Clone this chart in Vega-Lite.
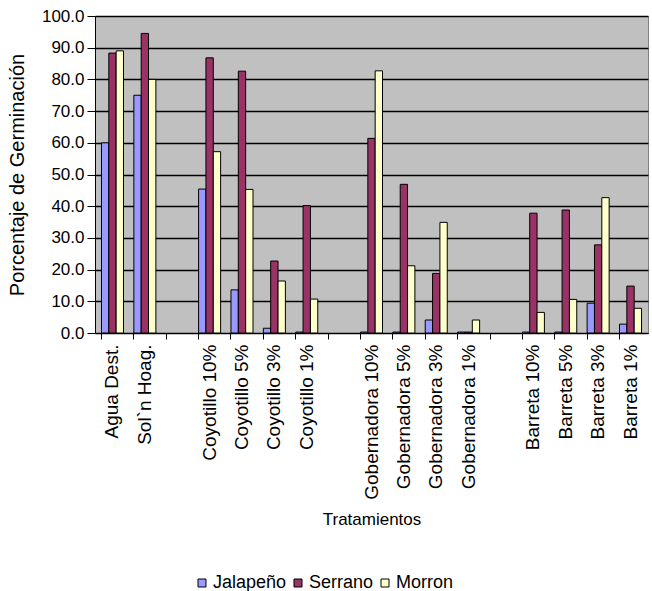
{
  "$schema": "https://vega.github.io/schema/vega-lite/v6.json",
  "width": 553,
  "height": 317,
  "autosize": {"type": "none"},
  "padding": {"left": 95, "top": 16, "right": 4, "bottom": 258},
  "background": "white",
  "config": {
    "font": "Liberation Sans",
    "view": {"fill": "#c0c0c0", "stroke": "#808080", "strokeWidth": 1}
  },
  "data": {
    "values": [
      {"tratamiento": "Agua Dest.", "variedad": "Jalapeño", "pct": 60.0},
      {"tratamiento": "Agua Dest.", "variedad": "Serrano", "pct": 88.3},
      {"tratamiento": "Agua Dest.", "variedad": "Morron", "pct": 89.0},
      {"tratamiento": "Sol`n Hoag.", "variedad": "Jalapeño", "pct": 75.0},
      {"tratamiento": "Sol`n Hoag.", "variedad": "Serrano", "pct": 94.5},
      {"tratamiento": "Sol`n Hoag.", "variedad": "Morron", "pct": 80.0},
      {"tratamiento": "Coyotillo 10%", "variedad": "Jalapeño", "pct": 45.4},
      {"tratamiento": "Coyotillo 10%", "variedad": "Serrano", "pct": 86.8},
      {"tratamiento": "Coyotillo 10%", "variedad": "Morron", "pct": 57.2},
      {"tratamiento": "Coyotillo 5%", "variedad": "Jalapeño", "pct": 13.6},
      {"tratamiento": "Coyotillo 5%", "variedad": "Serrano", "pct": 82.6},
      {"tratamiento": "Coyotillo 5%", "variedad": "Morron", "pct": 45.3},
      {"tratamiento": "Coyotillo 3%", "variedad": "Jalapeño", "pct": 1.5},
      {"tratamiento": "Coyotillo 3%", "variedad": "Serrano", "pct": 22.7},
      {"tratamiento": "Coyotillo 3%", "variedad": "Morron", "pct": 16.4},
      {"tratamiento": "Coyotillo 1%", "variedad": "Jalapeño", "pct": 0.3},
      {"tratamiento": "Coyotillo 1%", "variedad": "Serrano", "pct": 40.2},
      {"tratamiento": "Coyotillo 1%", "variedad": "Morron", "pct": 10.7},
      {"tratamiento": "Gobernadora 10%", "variedad": "Jalapeño", "pct": 0.3},
      {"tratamiento": "Gobernadora 10%", "variedad": "Serrano", "pct": 61.4},
      {"tratamiento": "Gobernadora 10%", "variedad": "Morron", "pct": 82.7},
      {"tratamiento": "Gobernadora 5%", "variedad": "Jalapeño", "pct": 0.3},
      {"tratamiento": "Gobernadora 5%", "variedad": "Serrano", "pct": 46.9},
      {"tratamiento": "Gobernadora 5%", "variedad": "Morron", "pct": 21.2},
      {"tratamiento": "Gobernadora 3%", "variedad": "Jalapeño", "pct": 4.1},
      {"tratamiento": "Gobernadora 3%", "variedad": "Serrano", "pct": 18.8},
      {"tratamiento": "Gobernadora 3%", "variedad": "Morron", "pct": 34.9},
      {"tratamiento": "Gobernadora 1%", "variedad": "Jalapeño", "pct": 0.3},
      {"tratamiento": "Gobernadora 1%", "variedad": "Serrano", "pct": 0.3},
      {"tratamiento": "Gobernadora 1%", "variedad": "Morron", "pct": 4.1},
      {"tratamiento": "Barreta 10%", "variedad": "Jalapeño", "pct": 0.3},
      {"tratamiento": "Barreta 10%", "variedad": "Serrano", "pct": 37.8},
      {"tratamiento": "Barreta 10%", "variedad": "Morron", "pct": 6.5},
      {"tratamiento": "Barreta 5%", "variedad": "Jalapeño", "pct": 0.3},
      {"tratamiento": "Barreta 5%", "variedad": "Serrano", "pct": 38.8},
      {"tratamiento": "Barreta 5%", "variedad": "Morron", "pct": 10.6},
      {"tratamiento": "Barreta 3%", "variedad": "Jalapeño", "pct": 9.4},
      {"tratamiento": "Barreta 3%", "variedad": "Serrano", "pct": 27.8},
      {"tratamiento": "Barreta 3%", "variedad": "Morron", "pct": 42.7},
      {"tratamiento": "Barreta 1%", "variedad": "Jalapeño", "pct": 2.8},
      {"tratamiento": "Barreta 1%", "variedad": "Serrano", "pct": 14.8},
      {"tratamiento": "Barreta 1%", "variedad": "Morron", "pct": 7.8}
    ]
  },
  "mark": {"type": "bar", "stroke": "black", "strokeWidth": 1},
  "encoding": {
    "x": {
      "field": "tratamiento",
      "type": "nominal",
      "scale": {
        "domain": ["Agua Dest.", "Sol`n Hoag.", " ", "Coyotillo 10%", "Coyotillo 5%", "Coyotillo 3%", "Coyotillo 1%", "  ", "Gobernadora 10%", "Gobernadora 5%", "Gobernadora 3%", "Gobernadora 1%", "   ", "Barreta 10%", "Barreta 5%", "Barreta 3%", "Barreta 1%"],
        "paddingInner": 0.32,
        "paddingOuter": 0.2
      },
      "axis": {
        "title": "Tratamientos",
        "titleFont": "Liberation Sans",
        "titleFontSize": 17,
        "titleFontWeight": "normal",
        "titleColor": "black",
        "titlePadding": 12,
        "labelAngle": -90,
        "labelFontSize": 19,
        "labelColor": "black",
        "labelPadding": 5,
        "labelOverlap": false,
        "bandPosition": 0,
        "tickSize": 6,
        "tickColor": "black",
        "domainColor": "black",
        "grid": false
      }
    },
    "xOffset": {
      "field": "variedad",
      "type": "nominal",
      "sort": ["Jalapeño", "Serrano", "Morron"],
      "scale": {"paddingInner": 0, "paddingOuter": 0}
    },
    "y": {
      "field": "pct",
      "type": "quantitative",
      "scale": {"domain": [0, 100], "nice": false},
      "axis": {
        "title": "Porcentaje de Germinación",
        "titleFont": "Liberation Sans",
        "titleFontSize": 20,
        "titleFontWeight": "normal",
        "titleColor": "black",
        "titlePadding": 14,
        "values": [0, 10, 20, 30, 40, 50, 60, 70, 80, 90, 100],
        "format": ".1f",
        "labelFontSize": 17,
        "labelColor": "black",
        "labelPadding": 3,
        "tickSize": 8,
        "tickColor": "black",
        "domainColor": "black",
        "grid": true,
        "gridColor": "black",
        "gridWidth": 1.5
      }
    },
    "color": {
      "field": "variedad",
      "type": "nominal",
      "scale": {
        "domain": ["Jalapeño", "Serrano", "Morron"],
        "range": ["#9999ff", "#993366", "#ffffcc"]
      },
      "legend": {
        "title": null,
        "orient": "none",
        "direction": "horizontal",
        "legendX": 98,
        "legendY": 558,
        "symbolType": "square",
        "symbolSize": 64,
        "symbolStrokeColor": "black",
        "symbolStrokeWidth": 1,
        "symbolFillOpacity": 1,
        "labelFontSize": 18,
        "labelColor": "black",
        "labelOffset": 2,
        "columnPadding": 2
      }
    }
  }
}
